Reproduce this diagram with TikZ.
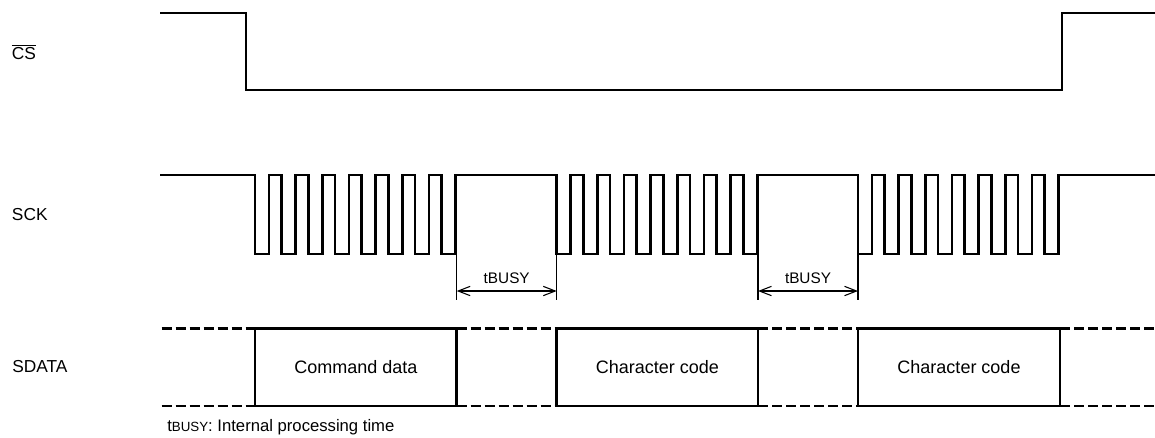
\documentclass[tikz,border=0pt]{standalone}
\usepackage{fontspec}
\setmainfont{Liberation Sans}
\usetikzlibrary{arrows.meta}
\begin{document}
\begin{tikzpicture}[x=0.75pt,y=-0.75pt,
  sig/.style={line width=1.9pt,line join=miter,line cap=butt},
  dsh/.style={line width=1.8pt,dash pattern=on 7.5pt off 3pt,line cap=butt},
  ext/.style={line width=0.8pt},
  dim/.style={line width=0.8pt,{Straight Barb[length=9pt,width=7pt]}-{Straight Barb[length=9pt,width=7pt]}},
  rowlabel/.style={anchor=west,inner sep=0pt,font=\fontsize{13}{15}\selectfont},
  boxtext/.style={inner sep=0pt,font=\fontsize{13.5}{16}\selectfont},
  dimlabel/.style={inner sep=0pt,font=\fontsize{11.5}{13}\selectfont}]
\useasboundingbox (0,0) rectangle (1155,437);
% labels
\node[rowlabel] (lcs) at (11.7,52) {$\overline{\mbox{CS}}$};
\node[rowlabel] (lsck) at (11.7,215) {SCK};
\node[rowlabel] (lsd) at (12,367) {SDATA};
% CS
\draw[sig] (160,13) -- (246,13) -- (246,90) -- (1062,90) -- (1062,13) -- (1155,13);
% SCK
\draw[sig] (160,175)
  foreach \s in {255,556.7,858} { -- (\s,175)
    foreach \k in {0,...,7} { -- ({\s+\k*26.667},175) -- ({\s+\k*26.667},254)
      -- ({\s+\k*26.667+14},254) -- ({\s+\k*26.667+14},175) } }
  -- (1155,175);
% tBUSY dimensions
\foreach \a/\b/\n in {456.7/556.7/1,758/858/2}{
  \coordinate (ta\n) at (\a,291);
  \coordinate (tb\n) at (\b,291);
  \draw[ext] (\a,255) -- (\a,300);
  \draw[ext] (\b,255) -- (\b,300);
  \draw[dim] (ta\n) -- (tb\n);
  \node[dimlabel] (tl\n) at ({(\a+\b)/2},278) {tBUSY};
}
% SDATA dashed
\foreach \a/\b in {161.7/255,456.7/556.7,758/858,1060/1155}{
  \draw[dsh] (\a,328.3) -- (\b,328.3);
  \draw[dsh] (\a,406) -- (\b,406);
}
% SDATA boxes
\draw[sig] (255,328.3) rectangle (456.7,406);
\draw[sig] (556.7,328.3) rectangle (758,406);
\draw[sig] (858,328.3) rectangle (1060,406);
\node[boxtext] (cmd) at (356,367) {Command data};
\node[boxtext] (ch1) at (657.3,367) {Character code};
\node[boxtext] (ch2) at (959,367) {Character code};
% footnote
\node[anchor=west,inner sep=0pt,font=\fontsize{12.5}{15}\selectfont] (note) at (167,427) {t{\fontsize{10}{12}\selectfont BUSY}: Internal processing time};
\end{tikzpicture}
\end{document}
